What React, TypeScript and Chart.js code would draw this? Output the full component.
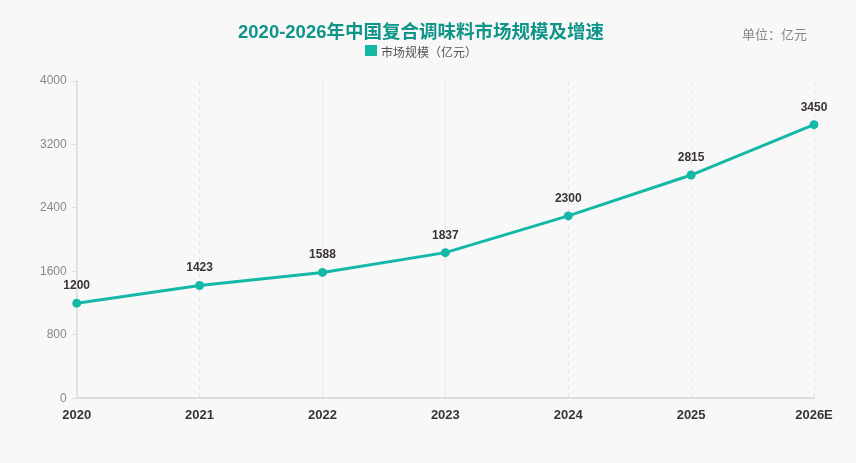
import React, { useEffect, useRef } from "react";
import { Chart, registerables } from "chart.js";

Chart.register(...registerables);

const years = ["2020", "2021", "2022", "2023", "2024", "2025", "2026E"];
const marketSize = [1200, 1423, 1588, 1837, 2300, 2815, 3450];
const yTicks = [0, 800, 1600, 2400, 3200, 4000];

const TITLE = "2020-2026年中国复合调味料市场规模及增速";
const SERIES_NAME = "市场规模（亿元）";
const UNIT = "单位：亿元";

const TEAL = "#14b8a6";
const TITLE_TEAL = "#0f9488";
const BG = "#f8f8f8";

const pointLabels = {
  id: "pointLabels",
  afterDatasetsDraw(chart: any) {
    const { ctx } = chart;
    const meta = chart.getDatasetMeta(0);
    ctx.save();
    ctx.font = "bold 12px 'Liberation Sans', Arial, sans-serif";
    ctx.fillStyle = "#3a3333";
    ctx.textAlign = "center";
    ctx.textBaseline = "alphabetic";
    meta.data.forEach((pt: any, i: number) => {
      ctx.fillText(String(marketSize[i]), pt.x, pt.y - 14);
    });
    ctx.restore();
  },
};

// heading, series key and unit note above the plot
const header = {
  id: "header",
  afterDraw(chart: any) {
    const { ctx } = chart;
    ctx.save();
    ctx.textBaseline = "middle";

    ctx.font = "bold 18.5px 'Liberation Sans', 'Noto Sans CJK SC', sans-serif";
    ctx.fillStyle = TITLE_TEAL;
    ctx.textAlign = "center";
    ctx.fillText(TITLE, 421, 33);

    ctx.font = "12px 'Noto Sans CJK SC', sans-serif";
    const tw = ctx.measureText(SERIES_NAME).width;
    const boxW = 12;
    const gap = 4;
    const startX = 421 - (boxW + gap + tw) / 2;
    ctx.fillStyle = TEAL;
    ctx.fillRect(startX, 45, boxW, 11);
    ctx.fillStyle = "#555555";
    ctx.textAlign = "left";
    ctx.fillText(SERIES_NAME, startX + boxW + gap, 52);

    ctx.font = "13px 'Noto Sans CJK SC', sans-serif";
    ctx.fillStyle = "#888888";
    ctx.textAlign = "right";
    ctx.fillText(UNIT, 807, 34);
    ctx.restore();
  },
};

export default function App() {
  const canvasRef = useRef<HTMLCanvasElement>(null);

  useEffect(() => {
    document.body.style.margin = "0";
    document.body.style.background = BG;
    const chart = new Chart(canvasRef.current!, {
      type: "line",
      data: {
        labels: years,
        datasets: [
          {
            label: SERIES_NAME,
            data: marketSize,
            borderColor: TEAL,
            backgroundColor: TEAL,
            borderWidth: 3,
            pointRadius: 4.5,
            pointBorderWidth: 0,
            pointBackgroundColor: TEAL,
            pointBorderColor: TEAL,
            tension: 0,
          },
        ],
      },
      options: {
        animation: false,
        responsive: false,
        layout: { padding: { top: 81, left: 35, right: 42, bottom: 31 } },
        plugins: {
          title: { display: false },
          legend: { display: false },
          tooltip: { enabled: false },
        },
        scales: {
          x: {
            offset: false,
            grid: {
              display: true,
              drawOnChartArea: true,
              drawTicks: false,
              color: "#e2e2e2",
            } as any,
            border: { display: true, color: "#dddddd", width: 2, dash: [4, 4] } as any,
            ticks: {
              color: "#3a3333",
              font: { size: 13, weight: "bold", family: "'Liberation Sans', Arial, sans-serif" },
              padding: 9,
              maxRotation: 0,
            },
          },
          y: {
            min: 0,
            max: 4000,
            afterBuildTicks: (axis: any) => {
              axis.ticks = yTicks.map((v) => ({ value: v }));
            },
            grid: {
              display: true,
              drawOnChartArea: false,
              drawTicks: true,
              tickLength: 5,
              color: "#dddddd",
            },
            border: { display: true, color: "#e3e3e3", width: 2 },
            ticks: {
              color: "#888888",
              font: { size: 12, family: "'Liberation Sans', Arial, sans-serif" },
              padding: 5,
              callback: (v: any) => String(v),
            },
          },
        },
      },
      plugins: [pointLabels, header],
    });
    return () => chart.destroy();
  }, []);

  return (
    <div style={{ width: 856, height: 463, background: BG }}>
      <canvas ref={canvasRef} width={856} height={463} />
    </div>
  );
}
